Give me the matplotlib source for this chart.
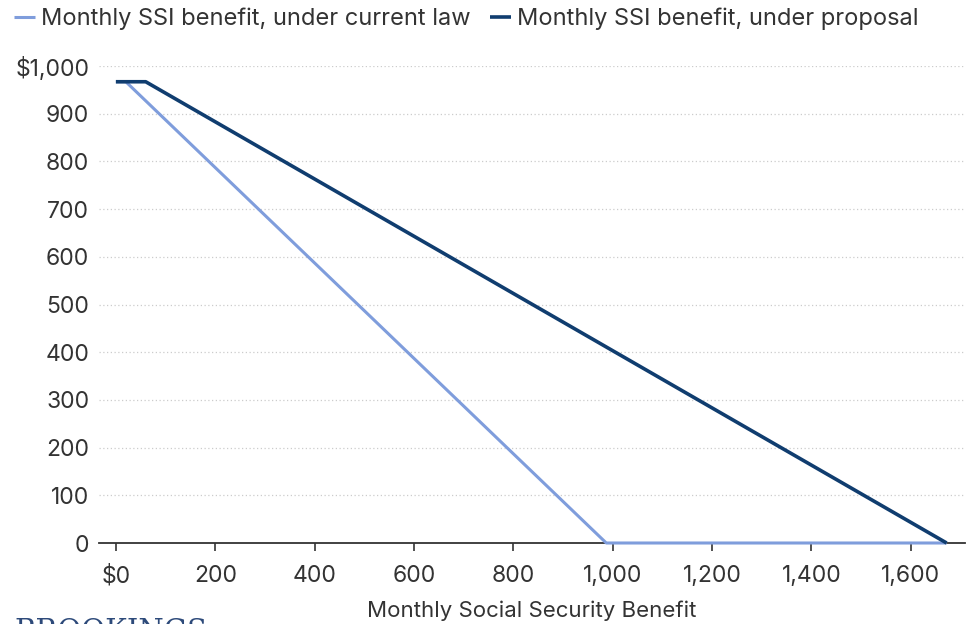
import matplotlib
matplotlib.use("Agg")
import matplotlib.pyplot as plt
from matplotlib.ticker import FuncFormatter

plt.rcParams['font.family'] = ['Inter', 'DejaVu Sans']

# Data
current_x = [0, 20, 987, 1672]
current_y = [967, 967, 0, 0]
proposal_x = [0, 60, 1672]
proposal_y = [967, 967, 0]
x_ticks = [0, 200, 400, 600, 800, 1000, 1200, 1400, 1600]
y_ticks = [0, 100, 200, 300, 400, 500, 600, 700, 800, 900, 1000]

light = '#7f9ddc'
dark = '#103d6f'

fig = plt.figure(figsize=(9.68, 6.24), dpi=100)
ax = fig.add_axes([99/968, 1 - 543/624, (965-99)/968, (543-66)/624])

l1, = ax.plot(current_x, current_y, color=light, lw=2.2, clip_on=False, zorder=3,
              solid_capstyle='butt', label='Monthly SSI benefit, under current law')
l2, = ax.plot(proposal_x, proposal_y, color=dark, lw=2.6, clip_on=False, zorder=4,
              solid_capstyle='butt', label='Monthly SSI benefit, under proposal')

ax.set_xlim(-34, 1709)
ax.set_ylim(0, 1000)
ax.set_xticks(x_ticks)
ax.set_yticks(y_ticks)
ax.xaxis.set_major_formatter(FuncFormatter(lambda v, p: '$0' if v == 0 else f'{int(v):,}'))
ax.yaxis.set_major_formatter(FuncFormatter(lambda v, p: '$1,000' if v == 1000 else f'{int(v):,}'))

for s in ['top', 'right', 'left']:
    ax.spines[s].set_visible(False)
ax.spines['bottom'].set_color('#333333')
ax.spines['bottom'].set_linewidth(1.3)
ax.spines['bottom'].set_zorder(2)

ax.tick_params(axis='y', length=0, pad=7, labelsize=16.5, labelcolor='#333333')
ax.tick_params(axis='x', length=6, width=1.2, color='#333333', pad=10, labelsize=16.5, labelcolor='#333333')
ax.grid(axis='y', color='#cccccc', linestyle=(0, (1, 2)), linewidth=0.9)
ax.set_axisbelow(True)

ax.set_xlabel('Monthly Social Security Benefit', fontsize=16, color='#333333', labelpad=9)

fig.legend(handles=[l1, l2], loc='upper left', bbox_to_anchor=(0.0, 1.01), ncol=2,
           frameon=False, fontsize=17, handlelength=0.9, handletextpad=0.25,
           columnspacing=0.8, borderaxespad=0.2, labelcolor='#333333')

fig.text(14/968, 1 - 618/624, 'BROOKINGS', fontsize=21, family='DejaVu Serif',
         color='#2d4a7a', va='top', ha='left')

fig.savefig('out.png', dpi=100)
